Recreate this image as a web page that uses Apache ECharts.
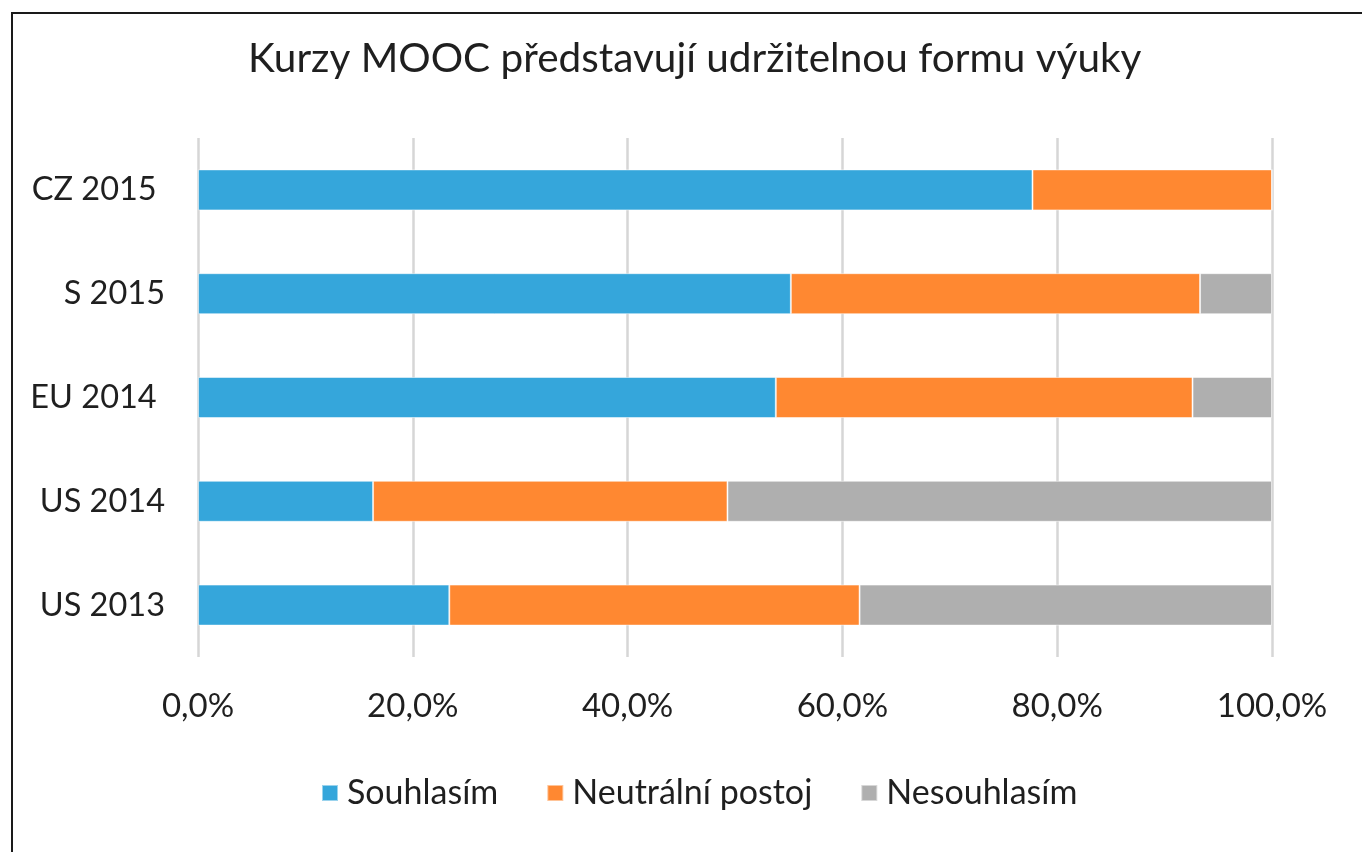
<!DOCTYPE html>
<html>
<head>
<meta charset="utf-8">
<script src="https://cdn.jsdelivr.net/npm/echarts@6/dist/echarts.min.js"></script>
<style>
html,body{margin:0;padding:0;background:#fff;overflow:hidden;}
#chart{width:1362px;height:852px;}
#frame{position:absolute;left:11px;top:12px;width:2000px;height:2000px;border:2px solid #1a1a1a;pointer-events:none;}
</style>
</head>
<body>
<div id="chart"></div>
<div id="frame"></div>
<script>
// categories bottom -> top (category axis on y goes upward)
const categories = ['US 2013', 'US 2014', 'EU 2014 ', 'S 2015', 'CZ 2015 ']
const souhlasim = [23.4, 16.3, 53.8, 55.2, 77.7]
const neutralni = [38.2, 33.0, 38.8, 38.1, 22.3]
const nesouhlasim = [38.4, 50.7, 7.4, 6.7, 0]
const seriesNames = ['Souhlasím', 'Neutrální postoj', 'Nesouhlasím']
const colors = ['#35a6db', '#ff8831', '#afafaf']

const font = 'Lato, "Open Sans", sans-serif'
let myChart = echarts.init(document.getElementById('chart'))

function bar(name, data) {
  return {
    name: name,
    type: 'bar',
    stack: 'total',
    data: data,
    barWidth: 41,
    itemStyle: {borderColor: 'rgba(255,255,255,0.5)', borderWidth: 1},
    emphasis: {disabled: true}
  }
}

let option = {
  animation: false,
  color: colors,
  title: {
    text: 'Kurzy MOOC představují udržitelnou formu výuky',
    left: 243,
    top: 33,
    textStyle: {fontFamily: font, fontSize: 40.5, fontWeight: 'normal', color: '#1f1f1f'}
  },
  legend: {
    data: seriesNames,
    top: 771,
    left: 316,
    icon: 'rect',
    itemWidth: 16,
    itemHeight: 16,
    itemGap: 48,
    textStyle: {fontFamily: font, fontSize: 34, color: '#1f1f1f', padding: [0, 0, 0, 4]}
  },
  grid: {left: 198, right: 90, top: 138, bottom: 195, containLabel: false},
  xAxis: {
    type: 'value',
    min: 0,
    max: 100,
    interval: 20,
    axisLine: {show: false},
    axisTick: {show: false},
    splitLine: {lineStyle: {color: '#d6d6d6', width: 2.5}},
    axisLabel: {
      fontFamily: font, fontSize: 33, color: '#1f1f1f', margin: 33,
      formatter: function (v) { return v.toFixed(1).replace('.', ',') + '%' }
    }
  },
  yAxis: {
    type: 'category',
    data: categories,
    axisLine: {show: false},
    axisTick: {show: false},
    axisLabel: {fontFamily: font, fontSize: 32.5, color: '#1f1f1f', margin: 33}
  },
  series: [
    bar(seriesNames[0], souhlasim),
    bar(seriesNames[1], neutralni),
    bar(seriesNames[2], nesouhlasim)
  ]
}
myChart.setOption(option)
</script>
</body>
</html>
